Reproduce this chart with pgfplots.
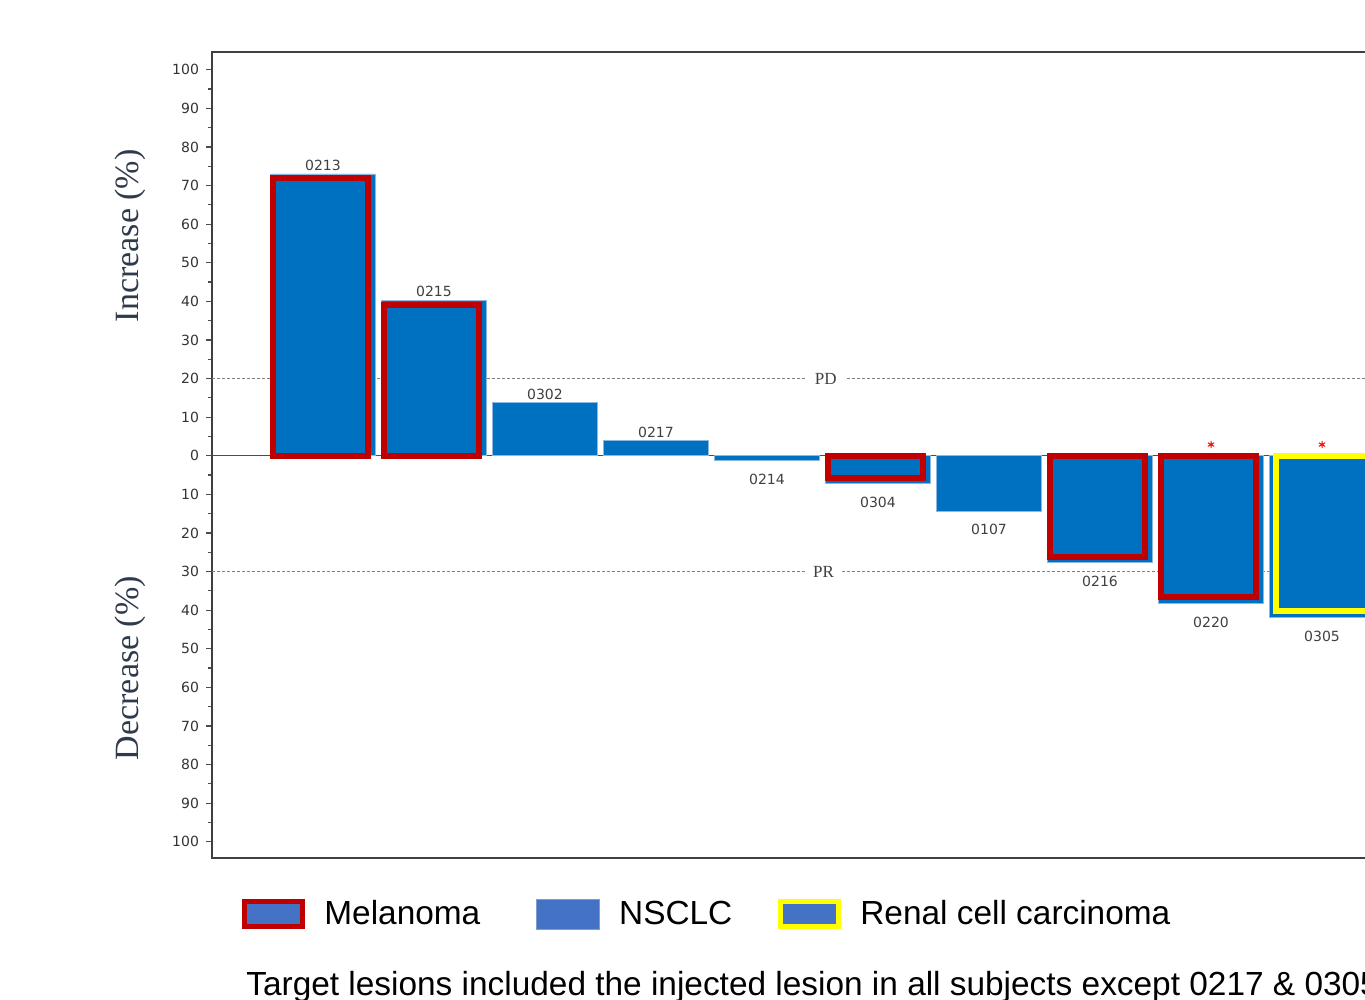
\documentclass[border=0pt]{standalone}
\usepackage{fontspec}
\setmainfont{Liberation Sans}
\newfontfamily\tickfont{DejaVu Sans}
\newfontfamily\labserif{Liberation Serif}
\usepackage{pgfplots}
\usepackage{pgfplotstable}
\pgfplotsset{compat=1.18}
\definecolor{barblue}{HTML}{0070C0}
\definecolor{edgeblue}{HTML}{8DB8E0}
\definecolor{melred}{HTML}{C00000}
\definecolor{legblue}{HTML}{4472C4}
\definecolor{ryellow}{HTML}{FFFF00}
\definecolor{labcol}{HTML}{2F3B4C}

\pgfplotstableread{
x y lab
1 73.0 0213
2 40.2 0215
3 13.7 0302
4 3.9 0217
}\posbars
\pgfplotstableread{
x y lab
5 -1.3 0214
6 -7.2 0304
7 -14.3 0107
8 -27.6 0216
9 -38.2 0220
10 -42.0 0305
}\negbars

\begin{document}
\begin{tikzpicture}
\begin{axis}[
  name=main,
  scale only axis, width=610.5pt, height=403pt,
  xmin=0, xmax=11, ymin=-104.2, ymax=104.6,
  xtick=\empty,
  ytick={-100,-90,...,100},
  yticklabels={100,90,80,70,60,50,40,30,20,10,0,10,20,30,40,50,60,70,80,90,100},
  minor y tick num=1,
  tick align=outside, major tick length=3pt, minor tick length=1.8pt,
  ytick style={draw=black!70, line width=0.6pt},
  yticklabel style={font=\tickfont\fontsize{7}{8}\selectfont, text=black!80},
  axis line style={draw=black!75, line width=0.8pt},
  clip=false,
  legend style={at={(0,0)}, anchor=north west, xshift=12pt, yshift=-17pt,
    draw=none, fill=none, font=\fontsize{16.7}{19}\selectfont,
    legend columns=3, legend cell align=left,
    /tikz/every odd column/.append style={column sep=7.5pt},
    /tikz/every even column/.append style={column sep=21pt},
    nodes={inner xsep=2pt}},
]
% reference lines
\addplot[black!50, dashed, dash pattern=on 1.5pt off 1pt, line width=0.5pt, forget plot] coordinates {(0,20) (11,20)};
\addplot[black!50, dashed, dash pattern=on 1.5pt off 1pt, line width=0.5pt, forget plot] coordinates {(0,-30) (11,-30)};
\node[fill=white, inner xsep=4pt, inner ysep=1pt, font=\labserif\fontsize{8.5}{9}\selectfont, text=black!75] at (axis cs:5.53,20) {PD};
\node[fill=white, inner xsep=4pt, inner ysep=1pt, font=\labserif\fontsize{8.5}{9}\selectfont, text=black!75] at (axis cs:5.51,-30) {PR};
% zero line
\addplot[black!70, line width=0.6pt, forget plot] coordinates {(0,0) (11,0)};
% bars
\addplot[ybar, bar width=0.94, bar shift=0pt, fill=barblue, draw=edgeblue, line width=0.4pt,
  nodes near coords, point meta=explicit symbolic,
  nodes near coords style={font=\tickfont\fontsize{7}{8}\selectfont, text=black!75, inner sep=1.5pt, anchor=south},
  forget plot] table[x=x, y=y, meta=lab]{\posbars};
\addplot[ybar, bar width=0.94, bar shift=0pt, fill=barblue, draw=edgeblue, line width=0.4pt,
  nodes near coords, point meta=explicit symbolic,
  nodes near coords style={font=\tickfont\fontsize{7}{8}\selectfont, text=black!75, inner sep=3pt, anchor=north, yshift=-3.5pt},
  forget plot] table[x=x, y=y, meta=lab]{\negbars};
% melanoma borders
\addplot[ybar, bar width=0.855, bar shift=-0.02, fill=none, draw=melred, line width=3pt, forget plot]
  coordinates {(1,72.0) (2,39.0) (6,-5.7) (8,-26.2) (9,-36.6)};
% renal border
\addplot[ybar, bar width=0.87, bar shift=0.02, fill=none, draw=ryellow, line width=3pt, forget plot]
  coordinates {(10,-40.3)};
% asterisks
\addplot[only marks, mark=asterisk, mark size=1.8pt, red, line width=0.5pt, forget plot]
  coordinates {(9,2.9) (10,2.9)};
% y labels
\node[rotate=90, font=\labserif\fontsize{17}{20}\selectfont, text=labcol] at ([xshift=-41pt]axis cs:0,57) {Increase (\%)};
\node[rotate=90, font=\labserif\fontsize{17}{20}\selectfont, text=labcol] at ([xshift=-41pt]axis cs:0,-55) {Decrease (\%)};
% legend
\addlegendimage{legend image code/.code={\draw[fill=legblue, draw=melred, line width=2.5pt] (1.25pt,-6.25pt) rectangle (30.25pt,6.25pt);}}
\addlegendentry{Melanoma\hspace*{5pt}}
\addlegendimage{legend image code/.code={\draw[fill=legblue, draw=legblue!70!white, line width=0.4pt] (0pt,-7.5pt) rectangle (31.5pt,7.5pt);}}
\addlegendentry{NSCLC}
\addlegendimage{legend image code/.code={\draw[fill=legblue, draw=ryellow, line width=2.5pt] (1.25pt,-6.25pt) rectangle (30.25pt,6.25pt);}}
\addlegendentry{Renal cell carcinoma}
\end{axis}
\node[anchor=base west, inner sep=0pt, font=\fontsize{16.7}{19}\selectfont] at ([xshift=17pt, yshift=-69pt]main.south west) {Target lesions included the injected lesion in all subjects except 0217 \& 0305};
\pgfresetboundingbox
\path[use as bounding box] ([xshift=-106pt, yshift=26pt]main.north west) rectangle ++(682.5pt,-500pt);
\end{tikzpicture}
\end{document}
